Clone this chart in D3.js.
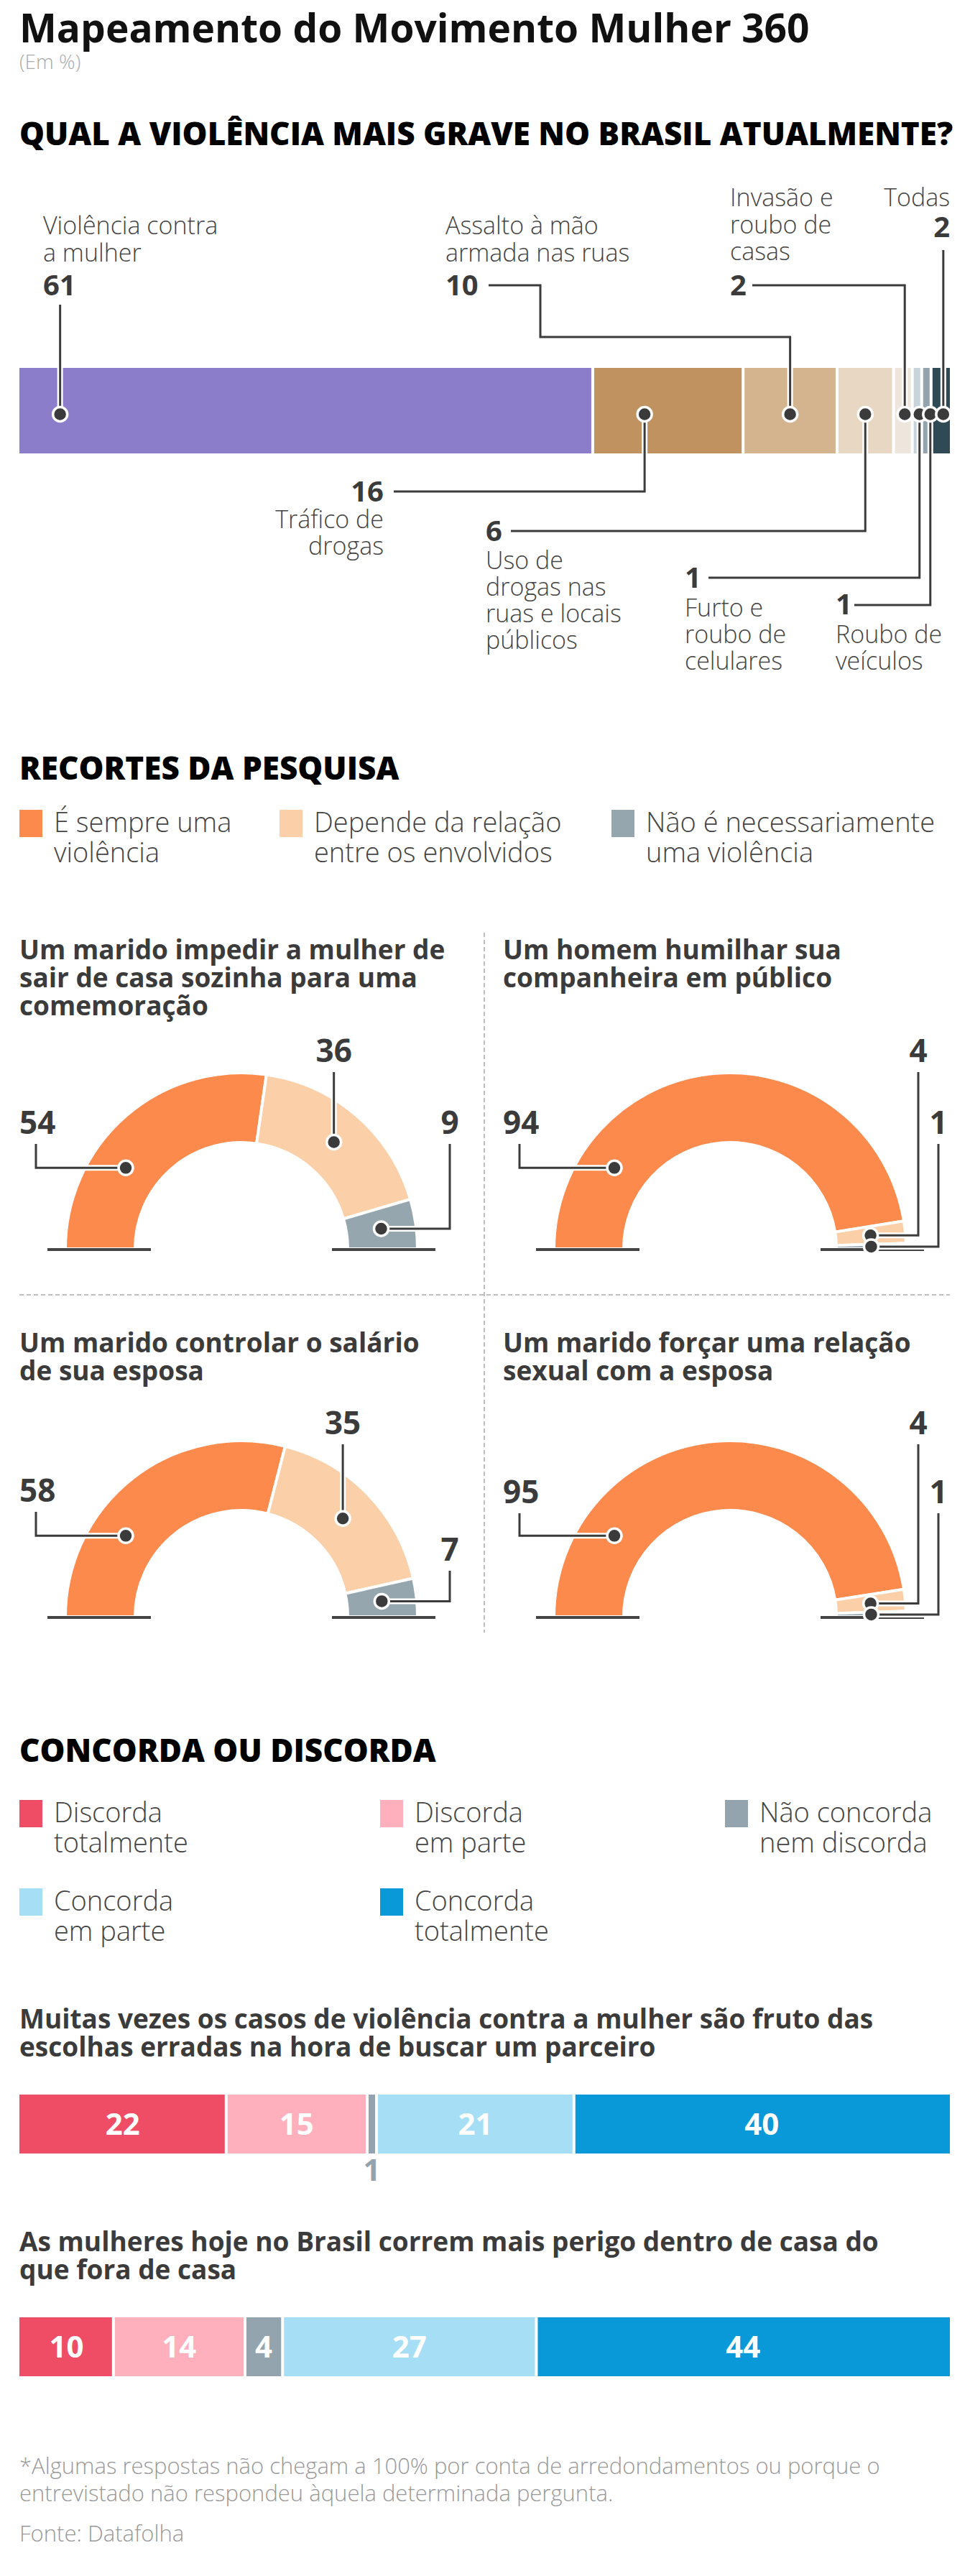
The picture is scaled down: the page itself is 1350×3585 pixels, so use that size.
<!DOCTYPE html>
<html>
<head>
<meta charset="utf-8">
<script src="https://cdn.jsdelivr.net/npm/d3@7"></script>
<style>
  body { margin: 0; background: #fff; }
  svg text { font-family: "Open Sans", "Noto Sans", sans-serif; }
</style>
</head>
<body>
<script>
// ---- data ----
const violenceCats = ["Violência contra\na mulher", "Tráfico de\ndrogas", "Assalto à mão\narmada nas ruas",
  "Uso de\ndrogas nas\nruas e locais\npúblicos", "Invasão e\nroubo de\ncasas", "Furto e\nroubo de\ncelulares",
  "Roubo de\nveículos", "Todas"]
const violenceVals = [61, 16, 10, 6, 2, 1, 1, 2]

const recorteCats = ["É sempre uma\nviolência", "Depende da relação\nentre os envolvidos", "Não é necessariamente\numa violência"]
const recorteQuestions = ["Um marido impedir a mulher de\nsair de casa sozinha para uma\ncomemoração",
  "Um homem humilhar sua\ncompanheira em público",
  "Um marido controlar o salário\nde sua esposa",
  "Um marido forçar uma relação\nsexual com a esposa"]
const recorteVals = [[54, 36, 9], [94, 4, 1], [58, 35, 7], [95, 4, 1]]

const concordaCats = ["Discorda\ntotalmente", "Discorda\nem parte", "Não concorda\nnem discorda", "Concorda\nem parte", "Concorda\ntotalmente"]
const concordaQuestions = ["Muitas vezes os casos de violência contra a mulher são fruto das\nescolhas erradas na hora de buscar um parceiro",
  "As mulheres hoje no Brasil correm mais perigo dentro de casa do\nque fora de casa"]
const concordaVals = [[22, 15, 1, 21, 40], [10, 14, 4, 27, 44]]

// ---- colours ----
const violenceColors = ["#8c7dcb", "#c09260", "#d4b48f", "#e8d8c3", "#eee6dc", "#c8d4dc", "#93a4af", "#2f4a55"]
const recorteColors = ["#fc8a4d", "#fbcfa8", "#95a6af"]
const concordaColors = ["#ef4c66", "#ffb0bc", "#94a4af", "#a6def6", "#0a99d8"]

const dark = "#3b3b3b", labelCol = "#444"

const svg = d3.select("body").append("svg")
  .attr("width", 1350).attr("height", 3585).style("display", "block")

// multi-line text, one <text> per line
function textLines(g, str, x, ys, size, weight, fill, anchor) {
  str.split("\n").forEach((s, i) => {
    g.append("text").attr("x", x).attr("y", ys[i])
      .attr("font-size", size).attr("font-weight", weight)
      .attr("fill", fill).attr("text-anchor", anchor || "start").text(s)
  })
}

function leader(g, pts) {
  const line = d3.line()
  g.append("path").attr("d", line(pts)).attr("fill", "none")
    .attr("stroke", "#fff").attr("stroke-width", 8)
  g.append("path").attr("d", line(pts)).attr("fill", "none")
    .attr("stroke", dark).attr("stroke-width", 3)
}

function dot(g, x, y) {
  g.append("circle").attr("cx", x).attr("cy", y).attr("r", 10)
    .attr("fill", dark).attr("stroke", "#fff").attr("stroke-width", 3.5)
}

// title
svg.append("text").attr("x", 27).attr("y", 59).attr("font-size", 55).attr("font-weight", 700)
  .attr("fill", "#111").text("Mapeamento do Movimento Mulher 360")
svg.append("text").attr("x", 27).attr("y", 96).attr("font-size", 28).attr("font-weight", 300)
  .attr("fill", "#aaa").text("(Em %)")

function heading(txt, y) {
  svg.append("text").attr("x", 27).attr("y", y).attr("font-size", 44).attr("font-weight", 800)
    .attr("fill", "#000").text(txt)
}

// ---- section 1: stacked bar ----
heading("QUAL A VIOLÊNCIA MAIS GRAVE NO BRASIL ATUALMENTE?", 202)

const x1 = d3.scaleLinear().domain([0, d3.sum(violenceVals)]).range([27, 1322])
const ends1 = d3.cumsum(violenceVals)
const starts1 = ends1.map((e, i) => e - violenceVals[i])
const barY1 = 512, barH1 = 119
const n1 = violenceVals.length

const g1 = svg.append("g")
g1.selectAll("rect").data(violenceVals).join("rect")
  .attr("x", (d, i) => x1(starts1[i]) + (i ? 2 : 0))
  .attr("width", (d, i) => x1(ends1[i]) - x1(starts1[i]) - (i ? 2 : 0) - (i < n1 - 1 ? 2 : 0))
  .attr("y", barY1).attr("height", barH1)
  .attr("fill", (d, i) => violenceColors[i])

// annotation layout for each bar segment
const violenceAnno = [
  { frac: .071, tx: 60, anchor: "start", lineYs: [326, 364], numY: 411, path: dx => [[dx, 424]] },
  { frac: .345, tx: 534, anchor: "end", lineYs: [735, 772], numY: 698, path: dx => [[548, 684], [dx, 684]] },
  { frac: .5, tx: 620, anchor: "start", lineYs: [326, 364], numY: 411, path: dx => [[680, 397], [752, 397], [752, 469], [dx, 469]] },
  { frac: .5, tx: 676, anchor: "start", lineYs: [792, 829, 866, 903], numY: 753, path: dx => [[711, 739], [dx, 739]] },
  { frac: .6, tx: 1016, anchor: "start", lineYs: [287, 325, 362], numY: 411, path: dx => [[1047, 397], [dx, 397]] },
  { frac: .77, tx: 953, anchor: "start", lineYs: [858, 895, 932], numY: 818, path: dx => [[986, 804], [dx, 804]] },
  { frac: .92, tx: 1163, anchor: "start", lineYs: [895, 932], numY: 855, path: dx => [[1189, 842], [dx, 842]] },
  { frac: .65, tx: 1322, anchor: "end", lineYs: [287], numY: 330, path: dx => [[dx, 348]] }
]
const dotY1 = barY1 + barH1 / 2 + 5
violenceAnno.forEach((a, i) => {
  const dx = x1(starts1[i]) + a.frac * (x1(ends1[i]) - x1(starts1[i]))
  leader(g1, a.path(dx).concat([[dx, dotY1]]))
})
violenceAnno.forEach((a, i) => {
  const dx = x1(starts1[i]) + a.frac * (x1(ends1[i]) - x1(starts1[i]))
  dot(g1, dx, dotY1)
  textLines(g1, violenceCats[i], a.tx, a.lineYs, 34, 300, labelCol, a.anchor)
  g1.append("text").attr("x", a.tx).attr("y", a.numY).attr("font-size", 40).attr("font-weight", 700)
    .attr("fill", dark).attr("text-anchor", a.anchor).text(violenceVals[i])
})

// ---- legends ----
function legend(cats, colors, pos) {
  const g = svg.append("g")
  cats.forEach((c, i) => {
    const p = pos[i]
    g.append("rect").attr("x", p[0]).attr("y", p[1]).attr("width", 32).attr("height", 38).attr("fill", colors[i])
    textLines(g, c, p[0] + 48, [p[1] + 31, p[1] + 73], 38, 300, labelCol)
  })
}

// ---- section 2: half donuts ----
heading("RECORTES DA PESQUISA", 1085)
legend(recorteCats, recorteColors, [[27, 1127], [389, 1127], [851, 1127]])

// dividers
svg.append("line").attr("x1", 674).attr("x2", 674).attr("y1", 1298).attr("y2", 2272)
  .attr("stroke", "#aaa").attr("stroke-width", 1.5).attr("stroke-dasharray", "6,4")
svg.append("line").attr("x1", 27).attr("x2", 1322).attr("y1", 1802).attr("y2", 1802)
  .attr("stroke", "#aaa").attr("stroke-width", 1.5).attr("stroke-dasharray", "6,4")

const panelX = [27, 700], donutCX = [336, 1016], donutCY = [1738, 2250]
const titleYs = [[1335, 1374, 1413], [1882, 1921]]
const topLabY = [1478, 1996]
const donutAnno = [{ midY: 1578, y2: 1578 }, { midY: 1578, y2: 1578 }, { midY: 2090, y2: 2172 }, { midY: 2092, y2: 2092 }]
const outerR = 245, innerR = 148, midR = (outerR + innerR) / 2

const pie = d3.pie().sort(null).startAngle(-Math.PI / 2).endAngle(Math.PI / 2)
const arc = d3.arc().innerRadius(innerR).outerRadius(outerR)
const midArc = d3.arc().innerRadius(midR).outerRadius(midR)

recorteVals.forEach((vals, k) => {
  const col = k % 2, row = Math.floor(k / 2)
  const px = panelX[col], cx = donutCX[col], cy = donutCY[row]
  const an = donutAnno[k]
  const g = svg.append("g")
  textLines(g, recorteQuestions[k], px, titleYs[row], 37, 700, dark)

  const arcs = pie(vals)
  g.append("g").attr("transform", `translate(${cx},${cy})`)
    .selectAll("path").data(arcs).join("path")
    .attr("d", arc).attr("fill", (d, i) => recorteColors[i])
    .attr("stroke", "#fff").attr("stroke-width", 4)

  // ground lines
  ;[[cx - outerR - 25, cx - innerR + 22], [cx + innerR - 22, cx + outerR + 25]].forEach(s => {
    g.append("line").attr("x1", s[0]).attr("x2", s[1]).attr("y1", cy + 1).attr("y2", cy + 1)
      .attr("stroke", "#444").attr("stroke-width", 4)
  })

  // dots
  const a0 = -55 * Math.PI / 180
  const d0 = [cx + midR * Math.sin(a0), cy - midR * Math.cos(a0)]
  const c1 = midArc.centroid(arcs[1]), c2 = midArc.centroid(arcs[2])
  const d1 = [cx + c1[0], cy + c1[1]], d2 = [cx + c2[0], cy + c2[1]]

  // slice 0 label on the left
  leader(g, [[px + 23, an.midY + 14], [px + 23, d0[1]], d0])
  // slice 1 label on top
  const big1 = vals[1] >= 10
  const l1x = big1 ? d1[0] : cx + 262
  if (big1) leader(g, [[l1x, topLabY[row] + 14], d1])
  else leader(g, [[l1x, topLabY[row] + 14], [l1x, d1[1]], d1])
  // slice 2 label on the right
  const l2x = cx + 290
  leader(g, [[l2x, an.y2 + 14], [l2x, d2[1]], d2])

  dot(g, d0[0], d0[1]); dot(g, d1[0], d1[1]); dot(g, d2[0], d2[1])

  const num = (x, y, v, anchor) => g.append("text").attr("x", x).attr("y", y)
    .attr("font-size", 44).attr("font-weight", 700).attr("fill", dark)
    .attr("text-anchor", anchor).text(v)
  num(px, an.midY, vals[0], "start")
  num(l1x, topLabY[row], vals[1], "middle")
  num(l2x, an.y2, vals[2], "middle")
})

// ---- section 3: agreement bars ----
heading("CONCORDA OU DISCORDA", 2452)
legend(concordaCats, concordaColors, [[27, 2505], [529, 2505], [1009, 2505], [27, 2628], [529, 2628]])

const qTitleYs = [[2823, 2862], [3133, 3172]]
const qBarY = [2915, 3225], qBarH = 82

concordaVals.forEach((vals, k) => {
  const g = svg.append("g")
  textLines(g, concordaQuestions[k], 27, qTitleYs[k], 37, 700, dark)
  const x = d3.scaleLinear().domain([0, d3.sum(vals)]).range([27, 1322])
  const ends = d3.cumsum(vals)
  const starts = ends.map((e, i) => e - vals[i])
  const n = vals.length
  g.selectAll("rect").data(vals).join("rect")
    .attr("x", (d, i) => x(starts[i]) + (i ? 2 : 0))
    .attr("width", (d, i) => x(ends[i]) - x(starts[i]) - (i ? 2 : 0) - (i < n - 1 ? 2 : 0))
    .attr("y", qBarY[k]).attr("height", qBarH)
    .attr("fill", (d, i) => concordaColors[i])
  g.selectAll("text.v").data(vals).join("text").attr("class", "v")
    .attr("x", (d, i) => (x(starts[i]) + x(ends[i])) / 2)
    .attr("y", d => x(d) - x(0) > 30 ? qBarY[k] + 56 : qBarY[k] + qBarH + 38)
    .attr("text-anchor", "middle").attr("font-size", 42).attr("font-weight", 700)
    .attr("fill", d => x(d) - x(0) > 30 ? "#fff" : "#94a4af")
    .text(d => d)
})

// footnote
textLines(svg, "*Algumas respostas não chegam a 100% por conta de arredondamentos ou porque o\nentrevistado não respondeu àquela determinada pergunta.",
  27, [3443, 3481], 31, 300, "#999")
svg.append("text").attr("x", 27).attr("y", 3537).attr("font-size", 31).attr("font-weight", 300)
  .attr("fill", "#999").text("Fonte: Datafolha")
</script>
</body>
</html>
